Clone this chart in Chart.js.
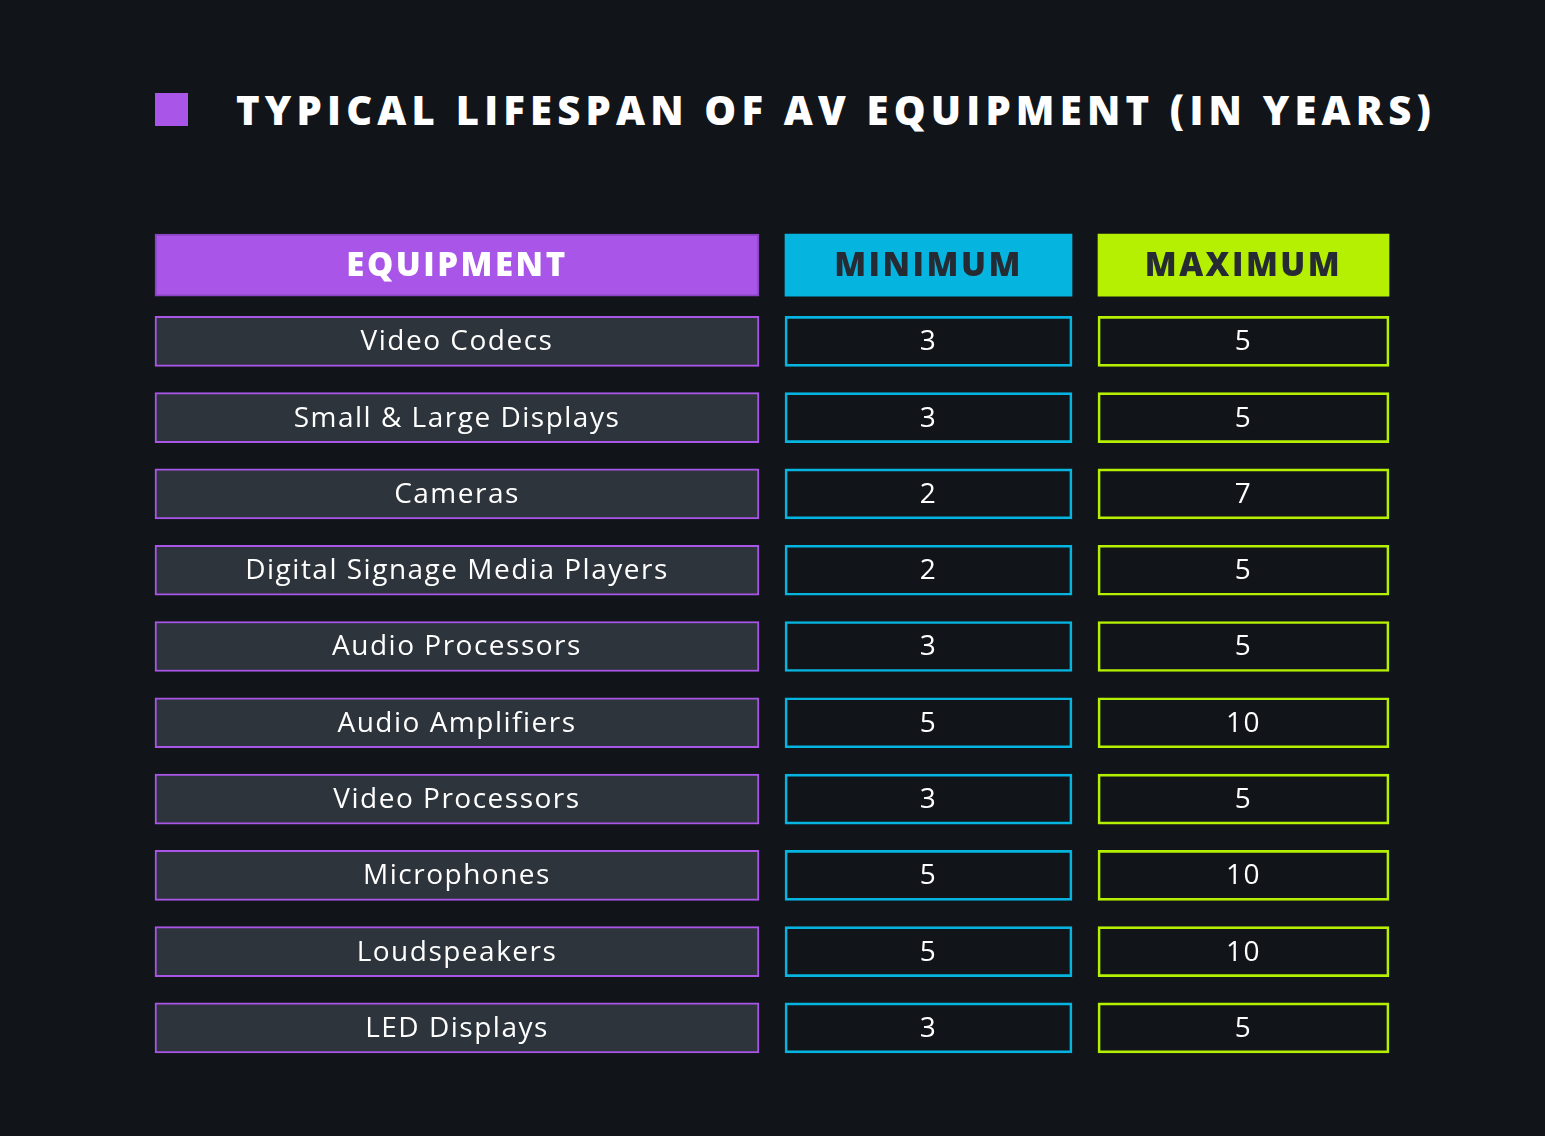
<!DOCTYPE html>
<html>
<head>
<meta charset="utf-8">
<script src="https://cdn.jsdelivr.net/npm/chart.js@4/dist/chart.umd.min.js"></script>
<style>
  html, body { margin: 0; background: #11151a; }
  #wrap { position: relative; width: 1545px; height: 1136px; }
  #title { position: absolute; left: 155px; top: 84px; height: 50px; display: flex; align-items: center;
           font-family: 'Open Sans', sans-serif; font-weight: 800; font-size: 40px; letter-spacing: 5.2px; color: #fff; }
  #title span.sq { width: 33px; height: 33px; background: #a855e8; margin-right: 48px; }
  canvas { position: absolute; left: 0; top: 0; }
</style>
</head>
<body>
<div id="wrap">
  <div id="title"><span class="sq"></span>TYPICAL LIFESPAN OF AV EQUIPMENT (IN YEARS)</div>
  <canvas id="table" width="1545" height="1136"></canvas>
</div>
<script>
// Table data
const headers = ['EQUIPMENT', 'MINIMUM', 'MAXIMUM'];
const equipment = ['Video Codecs', 'Small & Large Displays', 'Cameras', 'Digital Signage Media Players',
    'Audio Processors', 'Audio Amplifiers', 'Video Processors', 'Microphones', 'Loudspeakers', 'LED Displays'];
const minYears = [3, 3, 2, 2, 3, 5, 3, 5, 5, 3];
const maxYears = [5, 5, 7, 5, 5, 10, 5, 10, 10, 5];

// Column layout (x-range of each column on a 0..1545 scale)
const colSpans = [[155, 759], [785, 1072], [1098, 1389]];
const rows = ['header'].concat(equipment);

const purple = '#a855e8', cyan = '#06b4e0', lime = '#b5ef02';

function headerSet(i, fill, textColor) {
    return {
        label: headers[i],
        data: rows.map((r, k) => k === 0 ? colSpans[i] : null),
        texts: rows.map((r, k) => k === 0 ? headers[i] : ''),
        textColor: textColor, bold: true,
        backgroundColor: fill, borderColor: i === 0 ? '#8a45c4' : fill, borderWidth: i === 0 ? 2 : 0,
        barThickness: 62, borderSkipped: false
    };
}

function bodySet(i, values, border, fill) {
    return {
        label: headers[i] + ' cells',
        data: rows.map((r, k) => k === 0 ? null : colSpans[i]),
        texts: rows.map((r, k) => k === 0 ? '' : String(values[k - 1])),
        textColor: '#ffffff', bold: false,
        backgroundColor: fill, borderColor: border, borderWidth: 2,
        barThickness: 50, borderSkipped: false
    };
}

// Draw the cell text at the centre of each bar
const cellText = {
    id: 'cellText',
    afterDatasetsDraw(chart) {
        const ctx = chart.ctx;
        chart.data.datasets.forEach((ds, di) => {
            chart.getDatasetMeta(di).data.forEach((bar, k) => {
                const txt = ds.texts[k];
                if (!txt) return;
                ctx.save();
                ctx.fillStyle = ds.textColor;
                ctx.font = ds.bold ? "800 33px 'Open Sans'" : "400 28px 'Open Sans'";
                ctx.letterSpacing = ds.bold ? '2.5px' : '1.5px';
                ctx.textAlign = 'center';
                ctx.textBaseline = 'middle';
                ctx.fillText(txt, (bar.x + bar.base) / 2, bar.y + 1);
                ctx.restore();
            });
        });
    }
};

new Chart(document.getElementById('table'), {
    type: 'bar',
    data: {
        labels: rows,
        datasets: [
            headerSet(0, purple, '#ffffff'),
            headerSet(1, cyan, '#252a33'),
            headerSet(2, lime, '#252a33'),
            bodySet(0, equipment, purple, '#2e343c'),
            bodySet(1, minYears, cyan, 'rgba(0,0,0,0)'),
            bodySet(2, maxYears, lime, 'rgba(0,0,0,0)')
        ]
    },
    options: {
        indexAxis: 'y',
        responsive: false,
        animation: false,
        grouped: false,
        layout: { padding: { top: 227, bottom: 70, left: 0, right: 0 } },
        scales: {
            x: { type: 'linear', min: 0, max: 1545, display: false },
            y: { type: 'category', display: false, offset: true }
        },
        plugins: { legend: { display: false }, tooltip: { enabled: false } }
    },
    plugins: [cellText]
});
</script>
</body>
</html>
